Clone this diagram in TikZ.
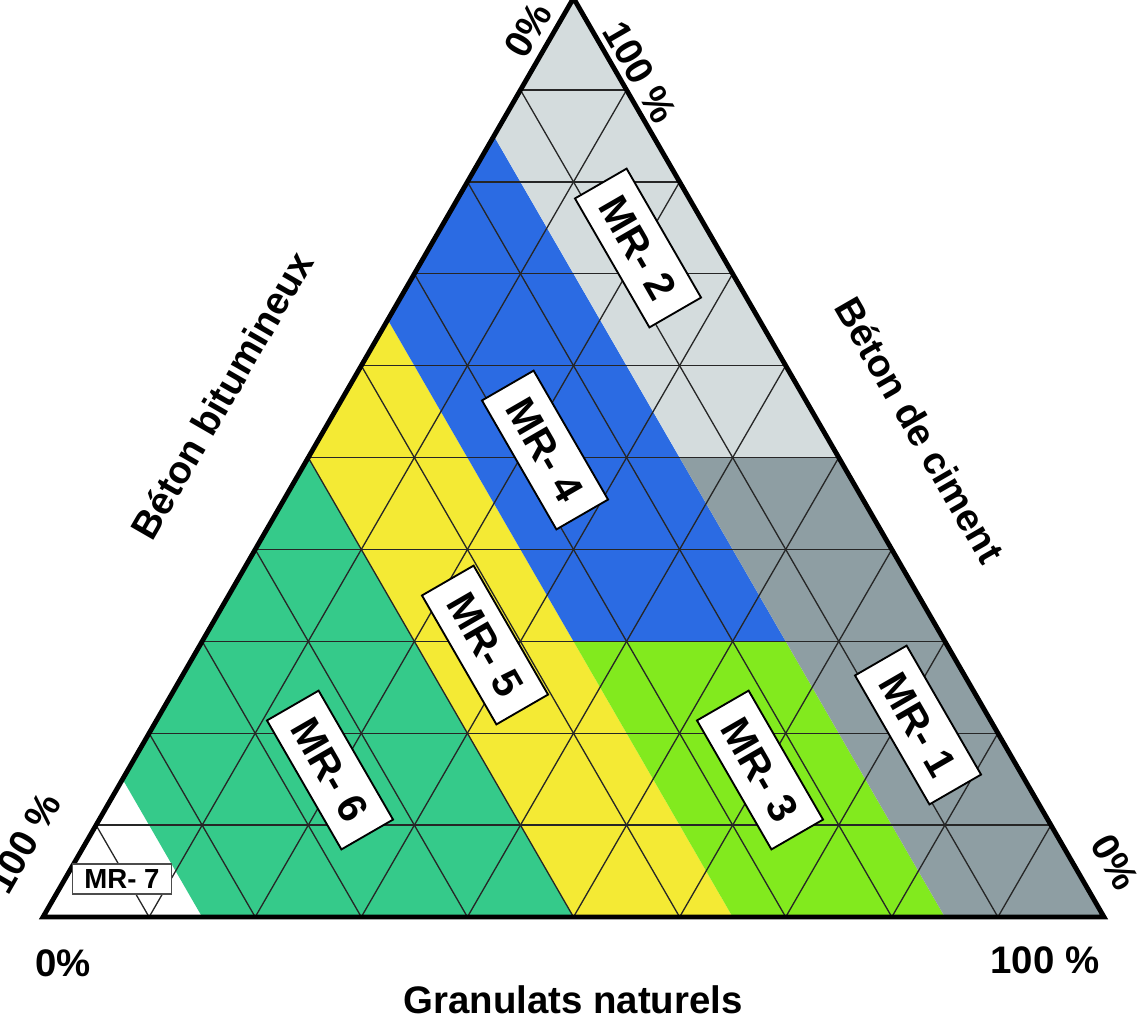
\documentclass[tikz,border=0pt]{standalone}
\usepackage{fontspec}
\setmainfont{Liberation Sans}
\definecolor{lgray}{HTML}{D4DCDD}
\definecolor{dgray}{HTML}{8E9EA3}
\definecolor{mblue}{HTML}{2B6BE3}
\definecolor{myel}{HTML}{F4EA34}
\definecolor{lgreen}{HTML}{82EA1E}
\definecolor{tgreen}{HTML}{35CA8A}
\newcommand{\PT}[2]{({43+106.1*(#1)+53.05*(#2)},{917-91.89*(#2)})}
\begin{document}
\begin{tikzpicture}[x=0.009425cm,y=-0.009425cm,
  axlab/.style={font=\fontsize{10.3}{12}\bfseries},
  mrbox/.style={draw=black,fill=white,line width=0.5pt,font=\fontsize{11}{13}\bfseries,inner xsep=5pt,minimum height=16pt,rotate=-60},
  gridline/.style={line width=0.35pt,black!85}]
\useasboundingbox (0,0) rectangle (1140,1020);
% regions
\fill[tgreen] \PT{1.5}{0} -- \PT{5}{0} -- \PT{0}{5} -- \PT{0}{1.5} -- cycle;
\fill[myel] \PT{5}{0} -- \PT{6.5}{0} -- \PT{0}{6.5} -- \PT{0}{5} -- cycle;
\fill[lgreen] \PT{6.5}{0} -- \PT{8.5}{0} -- \PT{5.5}{3} -- \PT{3.5}{3} -- cycle;
\fill[mblue] \PT{3.5}{3} -- \PT{5.5}{3} -- \PT{0}{8.5} -- \PT{0}{6.5} -- cycle;
\fill[dgray] \PT{8.5}{0} -- \PT{10}{0} -- \PT{5}{5} -- \PT{3.5}{5} -- cycle;
\fill[lgray] \PT{3.5}{5} -- \PT{5}{5} -- \PT{0}{10} -- \PT{0}{8.5} -- cycle;
% grid
\foreach \k in {1,...,9}{
  \draw[gridline] \PT{0}{\k} -- \PT{10-\k}{\k};
  \draw[gridline] \PT{\k}{0} -- \PT{\k}{10-\k};
  \draw[gridline] \PT{\k}{0} -- \PT{0}{\k};
}
% outline
\path \PT{0}{0} coordinate (A) \PT{10}{0} coordinate (B) \PT{0}{10} coordinate (C);
\draw[line width=1.3pt,line join=miter] (A) -- (B) -- (C) -- cycle;
% region labels
\node[mrbox] (mr2) at (638,248) {MR- 2};
\node[mrbox] (mr4) at (545,450) {MR- 4};
\node[mrbox] (mr5) at (485,645) {MR- 5};
\node[mrbox] (mr6) at (330,770) {MR- 6};
\node[mrbox] (mr3) at (760,770) {MR- 3};
\node[mrbox] (mr1) at (918,725) {MR- 1};
\node[draw=black!70,fill=white,line width=0.4pt,font=\fontsize{7.4}{9}\bfseries,minimum width=26.5pt,minimum height=7pt,inner sep=1.5pt] (mr7) at (122,879) {MR- 7};
% axis labels
\node[axlab] (gn) at (573,1000) {Granulats naturels};
\node[axlab] (z1) at (63,963) {0\%};
\node[axlab] (h1) at (1045,960) {100 \%};
\node[axlab,rotate=-60] (z2) at (1115,862) {0\%};
\node[axlab,rotate=-60] (h2) at (640,72) {100 \%};
\node[axlab,rotate=60] (z3) at (528,30) {0\%};
\node[axlab,rotate=60] (h3) at (24,843) {100 \%};
\node[axlab,rotate=60] (bb) at (222,395) {Béton bitumineux};
\node[axlab,rotate=-60] (bc) at (920,430) {Béton de ciment};
\end{tikzpicture}
\end{document}
